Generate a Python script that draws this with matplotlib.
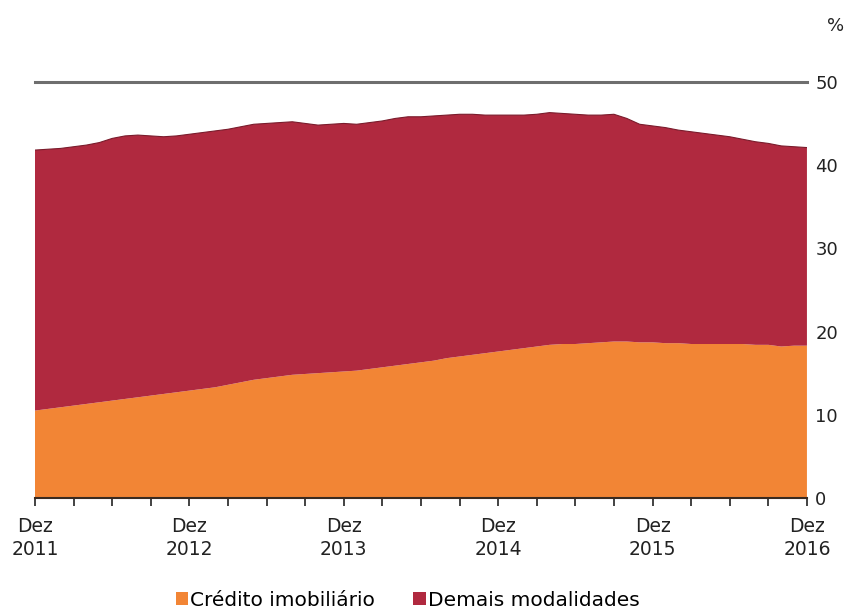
import numpy as np
import matplotlib
matplotlib.use("Agg")
import matplotlib.pyplot as plt
from matplotlib.patches import Patch

plt.rcParams['font.family'] = ['DejaVu Sans']

# Monthly values, Dez 2011 .. Dez 2016 (%)
total = [41.8, 41.9, 42.0, 42.2, 42.4, 42.7, 43.2, 43.5, 43.6, 43.5,
         43.4, 43.5, 43.7, 43.9, 44.1, 44.3, 44.6, 44.9, 45.0, 45.1,
         45.2, 45.0, 44.8, 44.9, 45.0, 44.9, 45.1, 45.3, 45.6, 45.8,
         45.8, 45.9, 46.0, 46.1, 46.1, 46.0, 46.0, 46.0, 46.0, 46.1,
         46.3, 46.2, 46.1, 46.0, 46.0, 46.1, 45.6, 44.9, 44.7, 44.5,
         44.2, 44.0, 43.8, 43.6, 43.4, 43.1, 42.8, 42.6, 42.3, 42.2,
         42.1]
credito_imob = [10.5, 10.7, 10.9, 11.1, 11.3, 11.5, 11.7, 11.9, 12.1, 12.3,
                12.5, 12.7, 12.9, 13.1, 13.3, 13.6, 13.9, 14.2, 14.4, 14.6,
                14.8, 14.9, 15.0, 15.1, 15.2, 15.3, 15.5, 15.7, 15.9, 16.1,
                16.3, 16.5, 16.8, 17.0, 17.2, 17.4, 17.6, 17.8, 18.0, 18.2,
                18.4, 18.5, 18.5, 18.6, 18.7, 18.8, 18.8, 18.7, 18.7, 18.6,
                18.6, 18.5, 18.5, 18.5, 18.5, 18.5, 18.4, 18.4, 18.2, 18.3,
                18.3]
demais = [t - c for t, c in zip(total, credito_imob)]

year_labels = ["Dez\n2011", "Dez\n2012", "Dez\n2013", "Dez\n2014", "Dez\n2015", "Dez\n2016"]
series_names = ["Crédito imobiliário", "Demais modalidades"]

c_orange = "#F28535"
c_red = "#B0293F"
txt = "#222222"

months = np.arange(len(total))

fig = plt.figure(figsize=(8.53, 6.12), dpi=100)
ax = fig.add_axes([0.041, 0.1863, 0.905, 0.680])

ax.stackplot(months, credito_imob, demais, colors=[c_orange, c_red], linewidth=0)
# thin darker outline on the top edge
ax.plot(months, total, color="#7a1c2c", linewidth=0.8)

# reference line at 50
ax.axhline(50, color="#6e6e6e", linewidth=2.2, clip_on=False)

ax.set_xlim(0, 60)
ax.set_ylim(0, 50)

for s in ["top", "left", "right"]:
    ax.spines[s].set_visible(False)
ax.spines["bottom"].set_color("#3a2a20")
ax.spines["bottom"].set_linewidth(1.5)

ax.set_xticks(np.arange(0, 61, 12))
ax.set_xticklabels(year_labels, fontsize=13.5, linespacing=1.25, color=txt)
ax.set_xticks(np.arange(0, 61, 3), minor=True)
ax.tick_params(axis="x", which="both", direction="out", length=6, width=1.2,
               color="#222222", pad=8)

ax.yaxis.tick_right()
ax.set_yticks(np.arange(0, 51, 10))
ax.tick_params(axis="y", which="both", length=0, pad=6, labelsize=13,
               labelcolor=txt)

fig.text(0.99, 0.957, "%", ha="right", va="center", fontsize=13, color=txt)

handles = [Patch(facecolor=c_orange), Patch(facecolor=c_red)]
fig.legend(handles, series_names, loc="lower center", bbox_to_anchor=(0.478, -0.026),
           ncol=2, frameon=False, fontsize=14.5, handlelength=0.6, handleheight=0.65,
           handletextpad=0.12, columnspacing=1.9)

fig.savefig("out.png", dpi=100)
